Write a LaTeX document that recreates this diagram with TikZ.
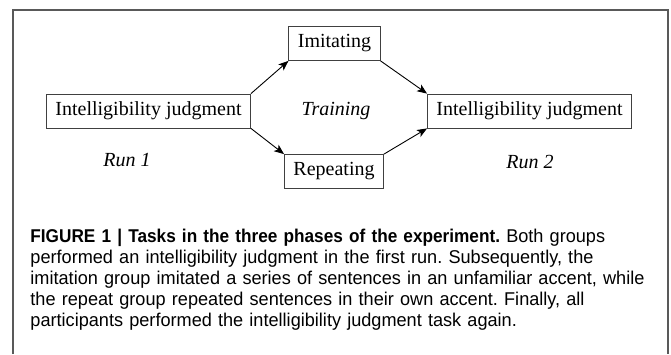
\documentclass[tikz,border=0pt]{standalone}
\usepackage{fontspec}
\setmainfont{Liberation Serif}
\newfontfamily\capfont[FakeStretch=0.98,BoldFeatures={FakeStretch=0.93}]{Liberation Sans}
\usetikzlibrary{arrows.meta}
\tikzset{
  tbox/.style = {rectangle, draw=black!75, line width=0.8pt, inner xsep=9pt,
    minimum height=34pt, font=\fontsize{20}{24}\selectfont},% task box
  lbl/.style = {font=\fontsize{20}{24}\selectfont\itshape},% italic phase label
  captxt/.style = {align=left, anchor=base west, inner sep=0pt, text width=640pt,
    font=\capfont\fontsize{18.5}{21}\selectfont\frenchspacing}% caption below
}
\begin{document}
\begin{tikzpicture}[x=1pt,y=-1pt,->,>={Stealth[length=10pt,width=8pt,inset=2.5pt]},
  line width=0.9pt]
\useasboundingbox (0,0) rectangle (671,354);
\draw [-,black!65,line width=1.3pt] (13,354) -- (13,10) -- (668,10) -- (668,354);
% the tasks
\node [tbox] (judg1) at (148.5,111) {Intelligibility judgment};
\node [tbox] (imit) at (334.5,43.5) {Imitating};
\node [tbox] (rep) at (334,171.5) {Repeating};
\node [tbox] (judg2) at (529.5,111) {Intelligibility judgment};
\node [lbl] (train) at (336,111) {Training};
\node [lbl] (run1) at (127,160) {Run 1};
\node [lbl] (run2) at (530,162) {Run 2};
\draw (judg1.north east) -- (imit.south west);
\draw (judg1.south east) -- (rep.north west);
\draw (imit.south east) -- (judg2.north west);
\draw (rep.north east) -- (judg2.south west);
% caption
\node [captxt] (caption) at (30,242) {\textbf{FIGURE 1 | Tasks in the three phases of the experiment.} Both groups\\
performed an intelligibility judgment in the first run. Subsequently, the\\
imitation group imitated a series of sentences in an unfamiliar accent, while\\
the repeat group repeated sentences in their own accent. Finally, all\\
participants performed the intelligibility judgment task again.};
\end{tikzpicture}
\end{document}
